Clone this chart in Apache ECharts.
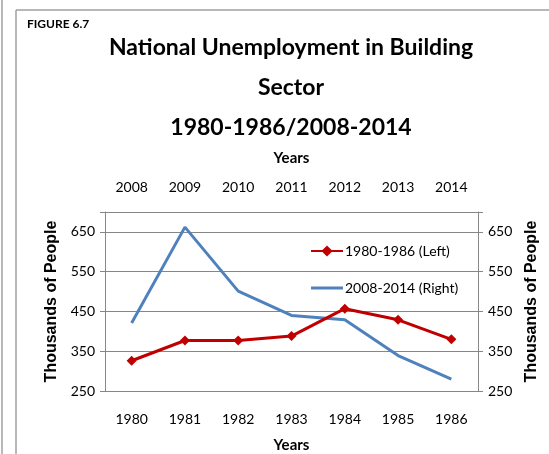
<!DOCTYPE html>
<html>
<head>
<meta charset="utf-8">
<script src="https://cdn.jsdelivr.net/npm/echarts@6/dist/echarts.min.js"></script>
<style>
  html, body { margin: 0; padding: 0; background: #fff; }
  #main { width: 549px; height: 454px; }
</style>
</head>
<body>
<div id="main"></div>
<script>
// data
const yearsOld = ['1980', '1981', '1982', '1983', '1984', '1985', '1986']
const yearsNew = ['2008', '2009', '2010', '2011', '2012', '2013', '2014']
const valuesOld = [326, 377, 377, 388, 457, 429, 380]
const valuesNew = [421, 662, 501, 440, 429, 339, 280]
const yTicks = [250, 350, 450, 550, 650]

const narrow = "Lato, 'Open Sans', sans-serif"
const axisGray = '#868686'

const chart = echarts.init(document.getElementById('main'))

const valueAxis = function (pos) {
  return {
    type: 'value',
    position: pos,
    min: 250,
    max: 700,
    interval: 100,
    name: 'Thousands of People',
    nameLocation: 'middle',
    nameGap: pos === 'left' ? 44 : 45,
    nameTextStyle: { fontFamily: 'Liberation Sans', fontWeight: 'bold', fontSize: 16, color: '#000' },
    axisLine: { show: true, lineStyle: { color: axisGray } },
    axisTick: { show: true, length: 5, lineStyle: { color: axisGray } },
    axisLabel: {
      fontFamily: narrow, fontSize: 14, color: '#000', margin: 10,
      formatter: function (v) { return yTicks.indexOf(v) >= 0 ? String(v) : '' }
    },
    splitLine: { show: pos === 'left', lineStyle: { color: axisGray } }
  }
}

const optionData = {
  animation: false,
  backgroundColor: '#fff',
  title: {
    text: 'National Unemployment in Building\nSector\n1980-1986/2008-2014',
    left: 286,
    textAlign: 'center',
    top: 23,
    textStyle: { fontFamily: narrow, fontWeight: 'bold', fontSize: 23, lineHeight: 40, color: '#000' }
  },
  graphic: [
    { type: 'line', shape: { x1: 2, y1: 0, x2: 2, y2: 454 }, style: { stroke: '#a0a0a0', lineWidth: 1.5 } },
    { type: 'line', shape: { x1: 16, y1: 10, x2: 16, y2: 454 }, style: { stroke: '#a0a0a0', lineWidth: 1.5 } },
    { type: 'line', shape: { x1: 16, y1: 10, x2: 549, y2: 10 }, style: { stroke: '#a0a0a0', lineWidth: 1.5 } },
    { type: 'text', left: 27, top: 18, style: { text: 'FIGURE 6.7', font: 'bold 12px Lato, sans-serif', fill: '#000' } }
  ],
  legend: {
    orient: 'vertical',
    left: 305,
    top: 239,
    itemWidth: 32,
    itemHeight: 14,
    itemGap: 23,
    symbolKeepAspect: true,
    textStyle: { fontFamily: narrow, fontSize: 14, color: '#000', padding: [0, 0, 0, -3] },
    data: [
      { name: '1980-1986 (Left)' },
      { name: '2008-2014 (Right)', icon: 'path://M0,0H32V3H0Z' }
    ]
  },
  grid: { left: 105, right: 71, top: 212, bottom: 60 },
  xAxis: [
    {
      type: 'category',
      position: 'bottom',
      data: yearsOld,
      name: 'Years',
      nameLocation: 'middle',
      nameGap: 47,
      nameTextStyle: { fontFamily: narrow, fontWeight: 'bold', fontSize: 15, color: '#000' },
      axisLine: { lineStyle: { color: axisGray } },
      axisTick: { length: 7, lineStyle: { color: axisGray } },
      axisLabel: { fontFamily: narrow, fontSize: 14, color: '#000', margin: 21 }
    },
    {
      type: 'category',
      position: 'top',
      data: yearsNew,
      name: 'Years',
      nameLocation: 'middle',
      nameGap: 46,
      nameTextStyle: { fontFamily: narrow, fontWeight: 'bold', fontSize: 15, color: '#000' },
      axisLine: { lineStyle: { color: axisGray } },
      axisTick: { length: 7, lineStyle: { color: axisGray } },
      axisLabel: { fontFamily: narrow, fontSize: 14, color: '#000', margin: 18 }
    }
  ],
  yAxis: [valueAxis('left'), valueAxis('right')],
  series: [
    {
      name: '1980-1986 (Left)',
      type: 'line',
      xAxisIndex: 0,
      yAxisIndex: 0,
      data: valuesOld,
      symbol: 'diamond',
      symbolSize: 10,
      lineStyle: { color: '#c00000', width: 3 },
      itemStyle: { color: '#c00000' },
      z: 3
    },
    {
      name: '2008-2014 (Right)',
      type: 'line',
      xAxisIndex: 1,
      yAxisIndex: 1,
      data: valuesNew,
      symbol: 'none',
      lineStyle: { color: '#4f81bd', width: 3 },
      itemStyle: { color: '#4f81bd' },
      z: 2
    }
  ]
}
chart.setOption(optionData)
</script>
</body>
</html>
